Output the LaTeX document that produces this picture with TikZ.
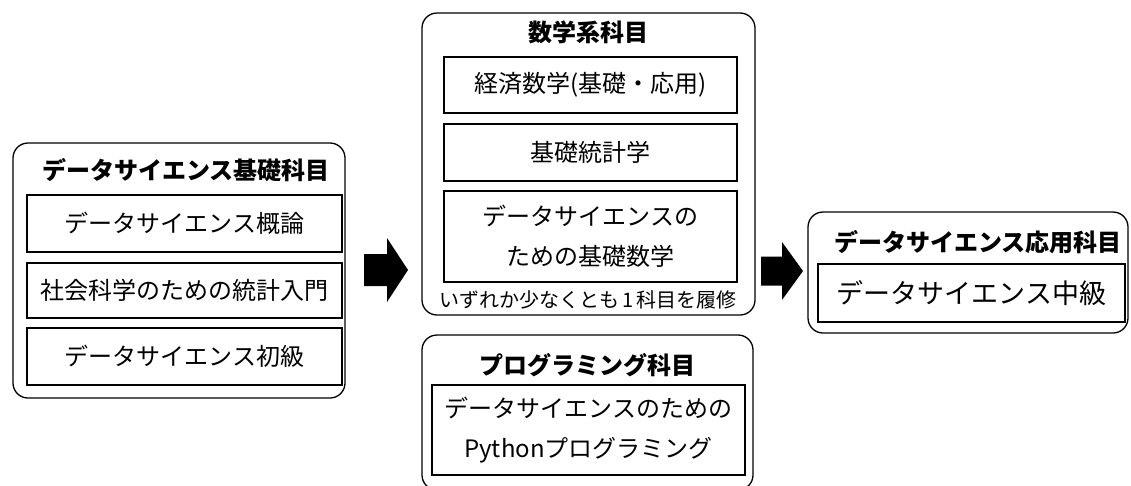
\documentclass[tikz,border=0pt]{standalone}
\usepackage{fontspec}
\setmainfont{Noto Sans CJK JP}
\begin{document}
\begin{tikzpicture}[x=1pt,y=-1pt,
  group/.style={draw, line width=1.3pt, rounded corners=15pt, inner sep=0pt},
  item/.style={draw, line width=1.3pt, inner sep=0pt, align=center,
               font=\fontsize{24}{40}\selectfont},
  head/.style={inner sep=0pt, font=\fontsize{24}{28}\selectfont\bfseries},
  note/.style={inner sep=0pt, font=\fontsize{20}{24}\selectfont},
  bigarrow/.style={fill=black}]
\useasboundingbox (0,0) rectangle (1131,485);

% Basic data science courses
\node[group, minimum width=332, minimum height=255] (basic) at (179,270.5) {};
\node[head] (basicT) at (186,170) {データサイエンス基礎科目};
\node[item, minimum width=315, minimum height=57] (b1) at (184.5,223.5) {データサイエンス概論};
\node[item, minimum width=315, minimum height=55] (b2) at (184.5,290.5) {社会科学のための統計入門};
\node[item, minimum width=315, minimum height=57] (b3) at (184.5,356.5) {データサイエンス初級};

% Mathematics courses
\node[group, minimum width=333, minimum height=302] (math) at (588.5,164) {};
\node[head] (mathT) at (588,32) {数学系科目};
\node[item, minimum width=293, minimum height=56] (m1) at (590.5,85) {経済数学(基礎・応用)};
\node[item, minimum width=293, minimum height=57] (m2) at (590.5,152.5) {基礎統計学};
\node[item, minimum width=293, minimum height=91] (m3) at (590.5,236.5) {データサイエンスの\\ための基礎数学};
\node[note] (mathN) at (588,300) {いずれか少なくとも\,1\,科目を履修};

% Programming courses
\node[group, minimum width=331, minimum height=155] (prog) at (587.5,412.5) {};
\node[head] (progT) at (587,365) {プログラミング科目};
\node[item, minimum width=313, minimum height=90] (p1) at (588.5,430) {データサイエンスのための\\Pythonプログラミング};

% Applied data science courses
\node[group, minimum width=320, minimum height=121] (app) at (968,272.5) {};
\node[head] (appT) at (978,242) {データサイエンス応用科目};
\node[item, minimum width=307, minimum height=58, font=\fontsize{27}{32}\selectfont] (a1) at (971.5,293) {データサイエンス中級};

% Block arrows between the groups
\coordinate (arrA) at (364,270);
\coordinate (arrB) at (761,271);
\fill[bigarrow] (arrA) ++(0,-16) -- ++(23,0) -- ++(0,-16) -- ++(21,32)
  -- ++(-21,32) -- ++(0,-16) -- ++(-23,0) -- cycle;
\fill[bigarrow] (arrB) ++(0,-14.5) -- ++(21,0) -- ++(0,-14.5) -- ++(21,29)
  -- ++(-21,29) -- ++(0,-14.5) -- ++(-21,0) -- cycle;
\end{tikzpicture}
\end{document}
